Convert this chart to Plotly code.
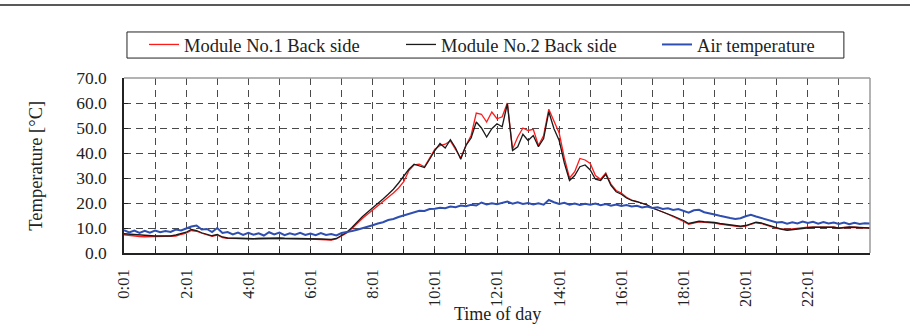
import plotly.graph_objects as go

# time axis: hours after 0:01, 10-minute steps
hours = [i / 6 for i in range(145)]

module1 = [
    7.3, 7.0, 6.8, 6.6, 6.5, 6.5,
    6.5, 6.5, 6.5, 6.5, 6.8, 7.4,
    7.9, 9.0, 8.7, 7.9, 7.2, 6.7,
    7.2, 6.2, 5.9, 5.8, 5.7, 5.7,
    5.7, 5.7, 5.8, 5.8, 5.9, 5.9,
    5.9, 5.8, 5.8, 5.7, 5.7, 5.6,
    5.6, 5.5, 5.4, 5.3, 5.2, 5.6,
    6.8, 8.0, 9.8, 12.0, 13.8, 15.5,
    17.2, 18.8, 20.5, 22.3, 24.0, 26.0,
    28.5, 33.0, 35.3, 35.5, 34.5, 38.0,
    41.5, 43.0, 43.5, 44.8, 41.5, 38.0,
    43.0, 47.0, 56.0, 55.5, 52.4, 56.4,
    53.7, 54.5, 60.0, 41.5, 46.4, 50.0,
    49.0, 49.5, 43.0, 47.0, 57.5, 52.5,
    48.0, 38.0, 30.0, 32.5, 37.8, 37.2,
    35.8, 31.0, 29.5, 32.0, 27.5, 25.0,
    24.0, 22.3, 21.2, 20.6, 19.9, 19.2,
    18.0, 17.3, 16.4, 15.5, 14.6, 13.7,
    12.6, 11.5, 12.0, 12.5, 12.3, 12.2,
    12.0, 11.6, 11.3, 11.0, 10.7, 10.5,
    10.8, 11.6, 12.1, 11.8, 11.1, 10.4,
    9.9, 9.6, 9.4, 9.6, 9.9, 10.2,
    10.3, 10.3, 10.4, 10.4, 10.3, 10.3,
    10.0, 10.2, 10.4, 10.3, 10.1, 10.0,
    10.0,
]

module2 = [
    7.7, 7.5, 7.3, 7.1, 7.0, 6.9,
    6.8, 6.8, 6.8, 6.8, 7.2, 7.8,
    8.3, 9.4, 9.0, 8.1, 7.4, 6.9,
    7.4, 6.4, 6.0, 5.9, 5.8, 5.8,
    5.7, 5.7, 5.8, 5.9, 5.9, 6.0,
    6.0, 5.9, 5.9, 5.8, 5.8, 5.7,
    5.7, 5.7, 5.6, 5.5, 5.4, 5.8,
    7.0, 8.3, 10.2, 12.5, 14.5, 16.3,
    18.0, 19.8, 21.6, 23.5, 25.5, 28.0,
    31.0, 33.5, 35.5, 35.0, 34.2, 37.5,
    41.0, 43.8, 42.0, 45.3, 42.0, 37.5,
    43.0, 46.0, 52.4, 50.0, 46.4, 49.7,
    51.7, 50.5, 59.7, 41.0, 42.5, 47.5,
    45.0, 47.0, 42.5, 45.8, 56.5, 49.7,
    45.0, 36.0, 29.0, 31.0, 34.5, 35.2,
    33.2, 29.5, 29.0, 31.5, 27.0, 24.5,
    23.5, 22.0, 21.0, 20.5, 19.8, 19.2,
    18.0, 17.3, 16.5, 15.6, 14.8, 14.0,
    13.0, 11.8, 12.2, 12.7, 12.5, 12.4,
    12.2, 11.8, 11.6, 11.2, 10.9, 10.7,
    11.0, 11.8, 12.3, 12.0, 11.3, 10.6,
    10.0, 9.5, 9.1, 9.4, 9.7, 10.0,
    10.3, 10.3, 10.3, 10.4, 10.3, 10.3,
    9.9, 10.2, 10.4, 10.3, 10.1, 10.0,
    10.0,
]

air = [
    9.1, 8.2, 9.0, 8.0, 8.9, 8.1,
    9.0, 8.3, 8.8, 8.4, 9.4, 9.0,
    9.8, 10.6, 11.0, 9.4, 9.6, 8.4,
    10.0, 8.0, 8.4, 7.4, 8.2, 7.2,
    8.1, 7.3, 7.9, 7.0, 8.3, 7.4,
    8.2, 7.1, 7.9, 7.3, 8.1, 7.2,
    7.8, 7.1, 8.0, 7.2, 7.6, 7.0,
    8.0, 8.3, 8.8, 9.3, 9.8, 10.4,
    11.1, 11.8, 12.3, 13.2, 13.6, 14.4,
    15.0, 15.8, 16.2, 16.9, 16.8, 17.6,
    17.7, 18.1, 17.9, 18.6, 18.3, 19.0,
    18.7, 19.3, 19.0, 20.2, 19.4, 19.9,
    19.5, 20.1, 20.6, 19.7, 20.3, 19.6,
    20.0, 19.4, 19.9, 19.3, 21.2, 20.3,
    19.6, 20.1, 19.3, 19.8, 19.2, 19.7,
    19.3, 19.8, 19.1, 19.6, 18.9, 19.4,
    18.8, 19.2, 18.6, 18.9, 18.2, 18.6,
    18.0, 18.3, 17.6, 17.9, 17.2, 17.6,
    17.0, 16.1, 17.1, 17.3, 16.3, 16.0,
    15.4, 14.9, 14.3, 14.0, 13.6, 13.9,
    14.7, 15.3, 14.6, 14.0, 13.2, 12.9,
    12.2, 12.4, 11.7, 12.3, 11.8, 12.6,
    12.0, 12.5, 11.7, 12.4, 11.8, 12.2,
    11.6, 12.2, 11.5, 12.1, 11.6, 11.9,
    11.8,
]

tick_hours = [0, 2, 4, 6, 8, 10, 12, 14, 16, 18, 20, 22]
tick_labels = ["0:01", "2:01", "4:01", "6:01", "8:01", "10:01",
               "12:01", "14:01", "16:01", "18:01", "20:01", "22:01"]
y_ticks = [0, 10, 20, 30, 40, 50, 60, 70]
y_labels = ["0.0", "10.0", "20.0", "30.0", "40.0", "50.0", "60.0", "70.0"]

FONT = "Liberation Serif"
GRID = "#4a4a4a"
TXT = "#222"

fig = go.Figure()
fig.add_trace(go.Scatter(x=hours, y=module1, mode="lines", name="Module No.1 Back side",
                         line=dict(color="#ff1a1a", width=1.3), legend="legend"))
fig.add_trace(go.Scatter(x=hours, y=module2, mode="lines", name="Module No.2 Back side",
                         line=dict(color="#1a1a1a", width=1.3), legend="legend2"))
fig.add_trace(go.Scatter(x=hours, y=air, mode="lines", name="Air temperature",
                         line=dict(color="#2f4fb0", width=2.0), legend="legend3"))

leg_common = dict(orientation="h", xanchor="left", y=1.189, yanchor="middle",
                  borderwidth=0, bgcolor="rgba(0,0,0,0)", itemwidth=30,
                  font=dict(family=FONT, size=18.5, color=TXT))

fig.update_layout(
    width=910, height=336,
    margin=dict(l=124, r=40, t=78, b=83, autoexpand=False),
    paper_bgcolor="white", plot_bgcolor="white",
    font=dict(family=FONT, size=17.5, color=TXT),
    showlegend=True,
    legend=dict(x=0.0268, **leg_common),
    legend2=dict(x=0.3713, **leg_common),
    legend3=dict(x=0.7145, **leg_common),
    xaxis=dict(range=[0, 24], tickvals=tick_hours, ticktext=tick_labels,
               tickangle=-90, showgrid=True, gridcolor=GRID, griddash="7px,5px",
               gridwidth=1, showline=True, linecolor=TXT, linewidth=1.5,
               ticks="inside", ticklen=4, tickcolor=TXT,
               tickfont=dict(family=FONT, size=16.5, color=TXT),
               minor=dict(dtick=1, tick0=0, showgrid=True, gridcolor=GRID,
                          griddash="7px,5px", gridwidth=1, ticks="inside", ticklen=4,
                          tickcolor=TXT),
               zeroline=False, ticklabelstandoff=8),
    yaxis=dict(range=[0, 70], tickvals=y_ticks, ticktext=y_labels,
               showgrid=True, gridcolor=GRID, griddash="7px,5px", gridwidth=1,
               showline=True, linecolor=TXT, linewidth=1.5,
               ticks="inside", ticklen=4, tickcolor=TXT,
               zeroline=False, ticklabelstandoff=12),
    annotations=[
        dict(text="Time of day", xref="paper", yref="paper", x=0.5, y=-0.35,
             xanchor="center", yanchor="middle", showarrow=False,
             font=dict(family=FONT, size=18, color=TXT)),
        dict(text="Temperature [°C]", xref="paper", yref="paper", x=-0.119, y=0.5,
             xanchor="center", yanchor="middle", showarrow=False, textangle=-90,
             font=dict(family=FONT, size=18.5, color=TXT)),
    ],
    shapes=[
        dict(type="line", xref="paper", yref="paper", x0=0, x1=1, y0=1, y1=1,
             line=dict(color="#9a9a9a", width=1.5)),
        dict(type="line", xref="paper", yref="paper", x0=1, x1=1, y0=0, y1=1,
             line=dict(color="#9a9a9a", width=1.5)),
        dict(type="rect", xref="paper", yref="paper", x0=0.004, x1=0.965,
             y0=1.114, y1=1.263, line=dict(color=TXT, width=1)),
        dict(type="line", xref="paper", yref="paper", x0=-0.17, x1=1.06,
             y0=1.417, y1=1.417, line=dict(color=TXT, width=1.5)),
    ],
)

fig.write_html("out.html",
               config={"displayModeBar": False},
               post_script="document.body.style.margin='0px';"
                           "document.body.style.overflow='hidden';")
